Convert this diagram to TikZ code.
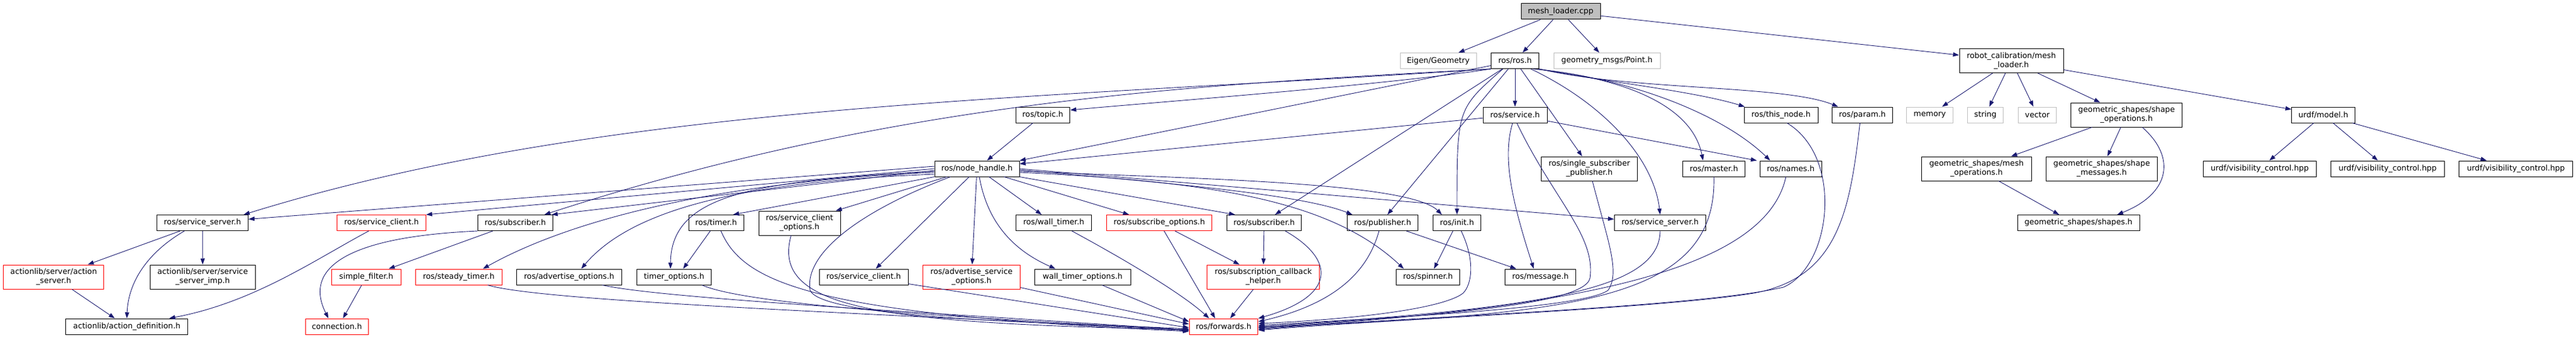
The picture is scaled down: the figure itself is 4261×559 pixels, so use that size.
\documentclass[tikz,border=0pt]{standalone}
\usepackage{fontspec}
\setmainfont{DejaVu Sans}
\usetikzlibrary{arrows.meta}

\definecolor{edgeblue}{HTML}{191970}
\definecolor{boxgrey}{HTML}{BFBFBF}
\definecolor{boxred}{HTML}{FF0000}
\newcommand{\boxfont}{\fontsize{12.8}{15}\selectfont}

\begin{document}
\begin{tikzpicture}[x=1pt, y=-1pt,
        box/.style={draw=black, line width=1pt, fill=white, minimum height=26pt,
                inner sep=0pt, align=center, font=\boxfont},
        tall/.style={minimum height=40pt},
        redbox/.style={box, draw=boxred},
        greybox/.style={box, draw=boxgrey},
        edge/.style={draw=edgeblue, line width=0.9pt, -{Triangle[length=10pt,width=7pt]}}]
        \useasboundingbox (0,0) rectangle (4261,559);

        % top rows
        \node[box, fill=boxgrey, minimum width=131pt] (cpp) at (2581.5,19) {mesh\_loader.cpp};
        \node[greybox, minimum width=126pt] (eigen) at (2379,100.5) {Eigen/Geometry};
        \node[box, minimum width=79pt] (ros) at (2506,100.5) {ros/ros.h};
        \node[greybox, minimum width=176pt] (point) at (2658,100.5) {geometry\_msgs/Point.h};
        \node[box, tall, minimum width=172pt] (rcml) at (3327,100.5) {robot\_calibration/mesh\\\_loader.h};

        \node[box, minimum width=89.5pt] (topic) at (1725,190) {ros/topic.h};
        \node[box, minimum width=106pt] (service) at (2506,190) {ros/service.h};
        \node[box, minimum width=122pt] (thisnode) at (2946,190) {ros/this\_node.h};
        \node[box, minimum width=100pt] (param) at (3080.5,190) {ros/param.h};
        \node[greybox, minimum width=77pt] (memoryh) at (3192,190) {memory};
        \node[greybox, minimum width=59pt] (stringh) at (3284,190) {string};
        \node[greybox, minimum width=63pt] (vectorh) at (3370,190) {vector};
        \node[box, tall, minimum width=184pt] (shapeops) at (3517.5,190) {geometric\_shapes/shape\\\_operations.h};
        \node[box, minimum width=104.5pt] (model) at (3843,190) {urdf/model.h};

        \node[box, minimum width=140pt] (nodehandle) at (1616,279) {ros/node\_handle.h};
        \node[box, tall, minimum width=159.5pt] (ssp) at (2629,279) {ros/single\_subscriber\\\_publisher.h};
        \node[box, minimum width=103pt] (master) at (2835,279) {ros/master.h};
        \node[box, minimum width=102pt] (names) at (2962,279) {ros/names.h};
        \node[box, tall, minimum width=182pt] (meshops) at (3269.4,279) {geometric\_shapes/mesh\\\_operations.h};
        \node[box, tall, minimum width=184pt] (shapemsgs) at (3476.5,279) {geometric\_shapes/shape\\\_messages.h};
        \node[box, minimum width=187.5pt] (vis1) at (3737.8,279) {urdf/visibility\_control.hpp};
        \node[box, minimum width=187.5pt] (vis2) at (3949.3,279) {urdf/visibility\_control.hpp};
        \node[box, minimum width=187.5pt] (vis3) at (4161.5,279) {urdf/visibility\_control.hpp};

        % lower rows
        \node[box, minimum width=151pt] (ssL) at (335,368.5) {ros/service\_server.h};
        \node[redbox, minimum width=146.6pt] (scL) at (631,368.5) {ros/service\_client.h};
        \node[box, minimum width=123.4pt] (subL) at (852.3,368.5) {ros/subscriber.h};
        \node[box, minimum width=91pt] (timer) at (1184.5,368.5) {ros/timer.h};
        \node[box, tall, minimum width=135pt] (sco) at (1322.5,369) {ros/service\_client\\\_options.h};
        \node[box, minimum width=125pt] (walltimer) at (1743,368.5) {ros/wall\_timer.h};
        \node[redbox, minimum width=174pt] (subopts) at (1917.6,368.5) {ros/subscribe\_options.h};
        \node[box, minimum width=123.5pt] (subR) at (2091,368.5) {ros/subscriber.h};
        \node[box, minimum width=117pt] (publisher) at (2287,368.5) {ros/publisher.h};
        \node[box, minimum width=78.6pt] (init) at (2410,368.5) {ros/init.h};
        \node[box, minimum width=151.5pt] (ssR) at (2746,368.5) {ros/service\_server.h};
        \node[box, minimum width=202pt] (shapes) at (3438,368.5) {geometric\_shapes/shapes.h};

        \node[redbox, tall, minimum width=166.3pt] (actsrv) at (88.8,458) {actionlib/server/action\\\_server.h};
        \node[box, tall, minimum width=174pt] (ssimp) at (335.3,458) {actionlib/server/service\\\_server\_imp.h};
        \node[redbox, minimum width=114.4pt] (simplefilter) at (605.8,458) {simple\_filter.h};
        \node[redbox, minimum width=142.5pt] (steady) at (758.8,458) {ros/steady\_timer.h};
        \node[box, minimum width=174pt] (advopts) at (941.4,458) {ros/advertise\_options.h};
        \node[box, minimum width=123.5pt] (timeropts) at (1115,458) {timer\_options.h};
        \node[box, minimum width=147pt] (sc2) at (1428.6,458) {ros/service\_client.h};
        \node[redbox, tall, minimum width=160.7pt] (asopts) at (1607,458) {ros/advertise\_service\\\_options.h};
        \node[box, minimum width=159.6pt] (wtopts) at (1790.8,458) {wall\_timer\_options.h};
        \node[redbox, tall, minimum width=185.6pt] (sch) at (2089.6,458) {ros/subscription\_callback\\\_helper.h};
        \node[box, minimum width=105pt] (spinner) at (2362,458) {ros/spinner.h};
        \node[box, minimum width=117pt] (message) at (2548,458) {ros/message.h};

        \node[box, minimum width=202pt] (actdef) at (209.8,540) {actionlib/action\_definition.h};
        \node[redbox, minimum width=104.6pt] (connection) at (557.3,540) {connection.h};
        \node[redbox, minimum width=113.6pt] (forwards) at (2024,540) {ros/forwards.h};

        % mesh_loader.cpp and robot_calibration
        \draw[edge] (cpp) -- (eigen);
        \draw[edge] (cpp) -- (ros);
        \draw[edge] (cpp) -- (point);
        \draw[edge] (cpp) -- (rcml);
        \foreach \t in {memoryh,stringh,vectorh,shapeops,model}
                \draw[edge] (rcml) -- (\t);
        \draw[edge] (shapeops) -- (meshops);
        \draw[edge] (shapeops) -- (shapemsgs);
        \draw[edge] ([xshift=26]shapeops.south) .. controls (3600,260) and (3590,320) .. ([xshift=64]shapes.north);
        \draw[edge] (meshops) -- ([xshift=-32]shapes.north);
        \foreach \t in {vis1,vis2,vis3}
                \draw[edge] (model) -- (\t);

        % ros/ros.h
        \draw[edge] (ros) -- (service);
        \draw[edge] (ros.south west) .. controls (2300,140) and (1900,170) .. ([yshift=8]topic.east);
        \draw[edge] (ros) -- (nodehandle.north east);
        \draw[edge] (ros.south west) .. controls (1700,165) and (1000,170) .. ([xshift=-8]ssL.north east);
        \draw[edge] (ros.south west) .. controls (2000,140) and (1500,160) .. ([xshift=-14]subL.north east);
        \draw[edge] (ros) -- ([xshift=-12]ssp.north);
        \draw[edge] ([xshift=30]ros.south) .. controls (2700,130) and (2800,180) .. ([xshift=-18]master.north);
        \draw[edge] ([xshift=32]ros.south) .. controls (2700,130) and (2850,190) .. ([xshift=-34]names.north);
        \draw[edge] (ros.south east) .. controls (2650,135) and (2800,150) .. ([xshift=-60]thisnode.north);
        \draw[edge] (ros.south east) .. controls (2700,150) and (2950,140) .. ([xshift=-40]param.north);
        \draw[edge] (ros) -- ([xshift=18]subR.north);
        \draw[edge] (ros) -- ([xshift=8]publisher.north);
        \draw[edge] ([xshift=-20]ros.south) .. controls (2410,180) .. (init.north);
        \draw[edge] ([xshift=26]ros.south) .. controls (2650,170) and (2735,260) .. (ssR.north);

        % ros/service.h and ros/topic.h
        \draw[edge] (service) -- ([yshift=8]nodehandle.east);
        \draw[edge] (service) -- ([xshift=-56]names.north);
        \draw[edge] ([xshift=-4]service.south) .. controls (2485,260) and (2500,330) .. ([xshift=-11]message.north);
        \draw[edge] ([xshift=3]service.south) .. controls (2570,330) and (2640,390) .. (2630,460)
                .. controls (2620,510) and (2300,525) .. ([yshift=-2]forwards.east);
        \draw[edge] (topic) -- (nodehandle);

        % ros/node_handle.h
        \draw[edge] ([yshift=4]nodehandle.west) -- ([yshift=6]ssL.east);
        \draw[edge] (nodehandle.west) -- (scL.north east);
        \draw[edge] ([yshift=-3]nodehandle.west) -- ([xshift=-2]subL.north east);
        \draw[edge] ([yshift=-6]nodehandle.west) .. controls (1200,300) and (950,360) .. ([xshift=40]steady.north);
        \draw[edge] ([yshift=-9]nodehandle.west) .. controls (1250,300) and (1050,340) .. ([xshift=20]advopts.north);
        \draw[edge] ([yshift=-4]nodehandle.west) .. controls (1250,300) and (1110,320) .. ([xshift=-6]timeropts.north);
        \draw[edge] (nodehandle.south west) -- ([xshift=28]timer.north);
        \draw[edge] ([xshift=-50]nodehandle.south) -- ([xshift=60]sco.north);
        \draw[edge] ([xshift=-44]nodehandle.south) .. controls (1420,350) and (1330,420) .. (1340,480)
                .. controls (1360,530) and (1800,535) .. ([yshift=-4]forwards.west);
        \draw[edge] ([xshift=-13]nodehandle.south) -- ([xshift=20]sc2.north);
        \draw[edge] (nodehandle) -- (asopts);
        \draw[edge] ([xshift=4]nodehandle.south) .. controls (1635,380) and (1690,420) .. ([xshift=-45]wtopts.north);
        \draw[edge] ([xshift=20]nodehandle.south) -- ([xshift=-20]walltimer.north);
        \draw[edge] ([xshift=45]nodehandle.south) -- ([xshift=-50]subopts.north);
        \draw[edge] (nodehandle.south east) -- ([xshift=-48]subR.north);
        \draw[edge] ([yshift=-2]nodehandle.east) .. controls (1900,300) and (2150,320) .. ([xshift=-50]publisher.north);
        \draw[edge] ([yshift=-4]nodehandle.east) .. controls (1950,295) and (2330,300) .. ([xshift=-25]init.north);
        \draw[edge] ([yshift=-6]nodehandle.east) .. controls (2000,300) and (2200,330) .. ([xshift=-40]spinner.north);
        \draw[edge] (nodehandle.east) -- ([yshift=6]ssR.west);

        % actionlib and filters
        \draw[edge] (ssL) -- (actsrv);
        \draw[edge] (ssL) -- (ssimp);
        \draw[edge] ([xshift=-30]ssL.south) .. controls (240,420) and (212,470) .. (actdef.north);
        \draw[edge] (actsrv) -- (actdef);
        \draw[edge] ([xshift=-21]scL.south) .. controls (520,430) and (420,500) .. ([xshift=70]actdef.north);
        \draw[edge] (subL) -- (simplefilter);
        \draw[edge] (subL.south west) .. controls (500,395) and (520,480) .. ([xshift=-14]connection.north);
        \draw[edge] (simplefilter) -- ([xshift=10]connection.north);

        % into ros/forwards.h
        \draw[edge] (timer) -- ([xshift=15]timeropts.north);
        \draw[edge] ([xshift=8]timer.south) .. controls (1230,470) and (1350,520) .. ([yshift=-8]forwards.west);
        \draw[edge] ([xshift=46]timeropts.south) .. controls (1250,510) and (1700,530) .. ([yshift=-6]forwards.west);
        \draw[edge] ([xshift=-14]sco.south) .. controls (1275,510) and (1450,535) .. ([yshift=-5]forwards.west);
        \draw[edge] ([xshift=48]steady.south) .. controls (900,500) and (1500,520) .. ([yshift=-7]forwards.west);
        \draw[edge] ([xshift=55]advopts.south) .. controls (1100,495) and (1600,520) .. ([yshift=-6]forwards.west);
        \draw[edge] (sc2) -- ([yshift=-2]forwards.west);
        \draw[edge] (asopts) -- ([yshift=4]forwards.west);
        \draw[edge] (wtopts) -- ([yshift=8]forwards.west);
        \draw[edge] ([xshift=30]walltimer.south) .. controls (1880,440) and (1960,490) .. ([xshift=-24]forwards.north);
        \draw[edge] ([xshift=8]subopts.south) -- ([xshift=-14]forwards.north);
        \draw[edge] (subopts) -- (sch);
        \draw[edge] (subR) -- (sch);
        \draw[edge] (sch) -- (forwards);
        \draw[edge] ([xshift=35]subR.south) .. controls (2210,430) and (2210,490) .. (forwards.north east);
        \draw[edge] ([xshift=-6]publisher.south) .. controls (2265,440) and (2220,500) .. ([yshift=8]forwards.east);
        \draw[edge] (publisher) -- ([xshift=-40]message.north);
        \draw[edge] (init) -- ([xshift=10]spinner.north);
        \draw[edge] ([xshift=7]init.south) .. controls (2440,430) and (2435,470) .. (2420,485)
                .. controls (2380,515) and (2200,530) .. ([yshift=5]forwards.east);
        \draw[edge] ([xshift=5]ssp.south) .. controls (2660,400) and (2680,450) .. (2660,480)
                .. controls (2620,510) and (2300,525) .. ([yshift=2]forwards.east);
        \draw[edge] (ssR.south) .. controls (2745,480) and (2550,510) .. (forwards.east);
        \draw[edge] (master.south) .. controls (2840,500) and (2600,520) .. ([yshift=-1]forwards.east);
        \draw[edge] ([xshift=-8]names.south) .. controls (2920,450) and (2600,510) .. ([yshift=-3]forwards.east);
        \draw[edge] ([xshift=10]thisnode.south) .. controls (3050,260) and (3030,440) .. (2950,475)
                .. controls (2800,510) and (2300,525) .. ([yshift=-5]forwards.east);
        \draw[edge] ([xshift=-4]param.south) .. controls (3060,350) and (3040,460) .. (2900,485)
                .. controls (2750,510) and (2300,528) .. ([yshift=-6]forwards.east);
\end{tikzpicture}
\end{document}
